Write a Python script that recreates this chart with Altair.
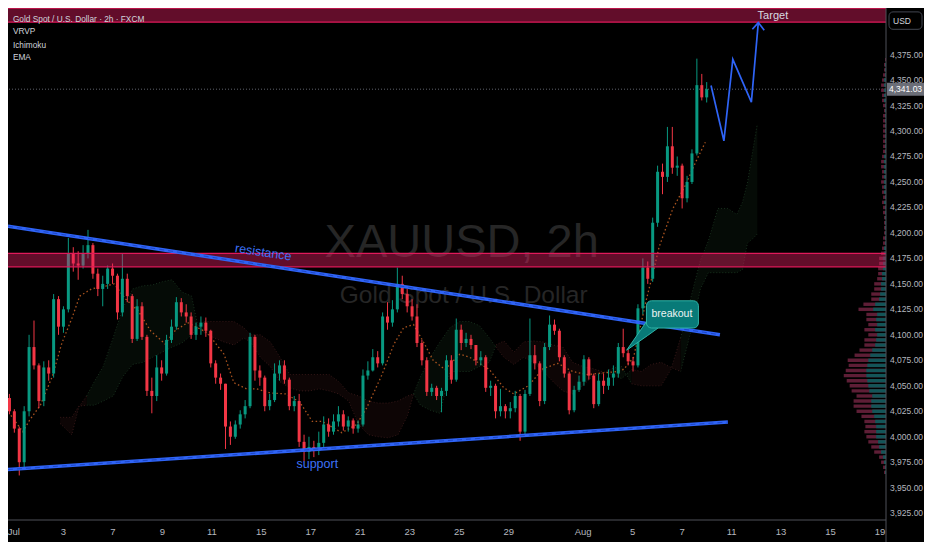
import altair as alt
import pandas as pd
import numpy as np

# ---------------- layout ----------------
W, H = 878, 512            # plot area
RW, RH = 894, 528          # reference plot area (px)
SX, SY = W / RW, H / RH
def px(v): return round(v * SX, 1)
def py(v): return round(v * SY, 1)

T_MIN, T_MAX = -0.238, 35.24        # trading days from Jul 1
P_MIN, P_MAX = 3918.3, 4420.7

GREEN, RED, BLUE = "#089981", "#f23645", "#2f64f6"
UI_FONT = "Liberation Sans, Arial, sans-serif"
TXT_FONT = "Liberation Sans, Arial, sans-serif"
AXIS_LINE = "#4e5159"
AXIS_TXT = "#b4b7bf"

# ---------------- data ----------------
label_t = [0, 2, 4, 6, 8, 10, 12, 14, 16, 18, 20, 23, 25, 27, 29, 31, 33, 35]
label_txt = ["Jul", "3", "7", "9", "11", "15", "17", "21", "23", "25", "29",
             "Aug", "5", "7", "11", "13", "15", "19"]
price_ticks = list(range(3925, 4376, 25))

candle_t0 = -0.18
candle_step = 5 / 25.2
first_open = 4038
highs = [4042, 4027, 4010, 4030, 4100, 4114, 4072, 4074, 4075, 4140,
         4138, 4128, 4195, 4186, 4182, 4188, 4203, 4190, 4165, 4158,
         4168, 4170, 4160, 4180, 4160, 4140, 4135, 4132, 4100, 4058,
         4080, 4075, 4100, 4115, 4137, 4136, 4130, 4122, 4112, 4118,
         4117, 4105, 4075, 4062, 4052, 4015, 4016, 4026, 4036, 4102,
         4100, 4070, 4060, 4042, 4072, 4075, 4075, 4058, 4040, 4042,
         4002, 4000, 3996, 4005, 4020, 4018, 4022, 4030, 4026, 4020,
         4018, 4016, 4066, 4074, 4086, 4084, 4122, 4132, 4134, 4166,
         4158, 4145, 4135, 4130, 4095, 4078, 4052, 4050, 4048, 4080,
         4080, 4116, 4110, 4102, 4100, 4090, 4084, 4080, 4055, 4052,
         4047, 4032, 4034, 4045, 4042, 4046, 4116, 4090, 4074, 4092,
         4119, 4115, 4106, 4080, 4064, 4050, 4060, 4080, 4078, 4062,
         4062, 4062, 4066, 4070, 4092, 4106, 4086, 4078, 4130, 4175,
         4172, 4215, 4266, 4268, 4304, 4304, 4275, 4268, 4256, 4282,
         4371, 4356, 4348]
lows = [4022, 4004, 3962, 3968, 4020, 4066, 4028, 4030, 4055, 4058,
        4100, 4102, 4122, 4162, 4154, 4165, 4175, 4155, 4138, 4128,
        4145, 4150, 4115, 4118, 4132, 4092, 4094, 4095, 4040, 4023,
        4035, 4055, 4060, 4092, 4105, 4118, 4112, 4096, 4095, 4100,
        4098, 4068, 4052, 4046, 3988, 3992, 3998, 4008, 4018, 4028,
        4055, 4050, 4025, 4026, 4034, 4055, 4052, 4026, 4025, 3990,
        3976, 3978, 3980, 3982, 3990, 4000, 4002, 4010, 4006, 4005,
        4003, 4004, 4010, 4056, 4064, 4068, 4070, 4105, 4108, 4122,
        4135, 4122, 4114, 4088, 4070, 4040, 4040, 4036, 4024, 4040,
        4052, 4054, 4085, 4088, 4086, 4070, 4070, 4044, 4040, 4018,
        4020, 4018, 4018, 4024, 3996, 4002, 4040, 4066, 4030, 4032,
        4085, 4100, 4074, 4058, 4022, 4024, 4044, 4050, 4056, 4028,
        4030, 4042, 4046, 4050, 4058, 4078, 4070, 4064, 4068, 4120,
        4150, 4152, 4206, 4238, 4250, 4258, 4256, 4224, 4230, 4248,
        4276, 4330, 4328]
closes = [4025, 4008, 3975, 4025, 4088, 4070, 4035, 4068, 4062, 4135,
          4108, 4125, 4180, 4170, 4168, 4180, 4188, 4160, 4145, 4150,
          4165, 4158, 4122, 4155, 4138, 4096, 4128, 4098, 4045, 4040,
          4068, 4062, 4095, 4108, 4132, 4122, 4118, 4100, 4108, 4112,
          4104, 4072, 4058, 4052, 4010, 4000, 4012, 4022, 4030, 4098,
          4065, 4058, 4030, 4036, 4062, 4070, 4056, 4030, 4035, 3995,
          3985, 3990, 3986, 3994, 4012, 4005, 4015, 4022, 4010, 4016,
          4008, 4012, 4060, 4065, 4078, 4072, 4118, 4112, 4125, 4150,
          4140, 4128, 4118, 4092, 4075, 4044, 4048, 4040, 4045, 4075,
          4056, 4105, 4092, 4096, 4090, 4075, 4078, 4048, 4050, 4025,
          4030, 4025, 4028, 4040, 4005, 4042, 4080, 4072, 4035, 4088,
          4110, 4104, 4078, 4062, 4026, 4046, 4054, 4076, 4060, 4032,
          4055, 4050, 4058, 4062, 4088, 4082, 4074, 4070, 4126, 4166,
          4155, 4210, 4260, 4255, 4285, 4264, 4266, 4234, 4250, 4278,
          4345, 4333, 4341.03]
last_price = 4341.03

# Ichimoku cloud (leading spans A / B)
cloud_t = [1.87, 2.34, 2.62, 2.94, 3.25, 3.61, 4.01, 4.40, 4.80, 5.20,
           5.60, 5.99, 6.39, 6.79, 7.18, 7.42, 7.70, 8.10, 8.49, 8.89,
           9.29, 9.56, 9.96, 10.36, 10.75, 11.15, 11.55, 11.94, 12.34, 12.74,
           13.13, 13.53, 13.93, 14.33, 14.72, 15.12, 15.52, 15.91, 16.15, 16.43,
           16.83, 17.22, 17.62, 18.02, 18.41, 18.81, 19.21, 19.48, 19.80, 20.20,
           20.60, 20.99, 21.39, 21.79, 22.18, 22.58, 22.98, 23.37, 23.77, 24.17,
           24.56, 24.96, 25.36, 25.75, 26.15, 26.55, 26.94, 27.34, 27.74, 28.06,
           28.45, 28.85, 29.21, 29.44, 29.64, 29.84, 30.04]
span_a = [4013, 4002, 4029, 4040, 4054, 4069, 4097, 4126, 4145, 4148,
          4149, 4152, 4154, 4142, 4138, 4110, 4102, 4097, 4093, 4090,
          4097, 4093, 4078, 4069, 4054, 4048, 4045, 4045, 4047, 4045,
          4042, 4035, 4012, 4002, 4000, 3999, 4002, 4021, 4042, 4059,
          4078, 4093, 4107, 4113, 4113, 4109, 4097, 4088, 4078, 4071,
          4078, 4073, 4064, 4054, 4045, 4042, 4050, 4059, 4062, 4067,
          4069, 4052, 4050, 4050, 4050, 4066, 4097, 4135, 4173, 4192,
          4224, 4224, 4218, 4230, 4249, 4278, 4307]
span_b = [4019, 4019, 4030, 4031, 4031, 4035, 4040, 4059, 4071, 4073,
          4078, 4083, 4088, 4092, 4100, 4107, 4113, 4113, 4113, 4113,
          4107, 4100, 4100, 4093, 4078, 4061, 4061, 4061, 4061, 4061,
          4054, 4043, 4040, 4035, 4033, 4033, 4035, 4040, 4042, 4031,
          4026, 4023, 4064, 4064, 4064, 4069, 4073, 4090, 4094, 4083,
          4093, 4094, 4093, 4090, 4088, 4073, 4069, 4067, 4064, 4061,
          4057, 4066, 4064, 4071, 4073, 4068, 4064, 4102, 4145, 4161,
          4161, 4161, 4161, 4164, 4190, 4194, 4199]

ema_t = [-0.12, 0.36, 0.63, 1.07, 1.55, 1.94, 2.34, 2.66, 3.13, 3.73,
         4.05, 4.52, 5.04, 5.52, 6.11, 6.51, 7.02, 7.82, 8.49, 8.89,
         9.40, 9.80, 10.36, 10.99, 11.55, 12.06, 12.46, 13.25, 13.85, 14.25,
         14.84, 15.36, 15.75, 16.15, 16.55, 16.94, 17.42, 18.02, 18.41, 19.21,
         19.80, 20.20, 20.79, 21.39, 21.98, 22.58, 23.17, 24.37, 24.64, 25.04,
         25.28, 25.56, 25.83, 26.07, 26.35, 26.63, 27.14, 27.54, 27.94]
ema_v = [4021, 4005, 4016, 4031, 4059, 4092, 4116, 4138, 4145, 4148,
         4150, 4135, 4123, 4104, 4091, 4104, 4112, 4102, 4081, 4053,
         4047, 4047, 4043, 4042, 4034, 4015, 4015, 4004, 4012, 4028,
         4059, 4091, 4107, 4110, 4093, 4075, 4066, 4081, 4078, 4066,
         4048, 4042, 4050, 4067, 4072, 4064, 4061, 4064, 4066, 4078,
         4104, 4135, 4161, 4186, 4205, 4224, 4247, 4269, 4289]

# visible-range volume profile, rows of 5 USD
vp_price = list(range(3965, 4371, 5))
vp_total = [2, 3, 5, 7, 12, 15, 18, 20, 22, 21,
            22, 25, 30, 33, 33, 30, 35, 37, 40, 43,
            41, 38, 39, 32, 27, 22, 22, 18, 22, 18,
            20, 20, 28, 23, 15, 15, 12, 12, 9, 8,
            8, 7, 7, 5, 4, 3, 3, 2, 2, 2,
            2, 3, 3, 4, 3, 4, 4, 5, 4, 4,
            5, 5, 4, 3, 3, 3, 3, 3, 3, 3,
            3, 2, 3, 4, 4, 5, 5, 4, 3, 2,
            2, 1]
vp_up = [1, 1, 2, 3, 5, 7, 8, 10, 10, 10,
         11, 12, 14, 15, 15, 14, 17, 18, 19, 20,
         20, 19, 18, 16, 14, 11, 10, 9, 11, 9,
         10, 9, 13, 11, 7, 6, 5, 5, 4, 4,
         3, 3, 3, 2, 2, 1, 1, 1, 1, 1,
         1, 1, 1, 2, 1, 2, 2, 2, 2, 2,
         2, 2, 2, 1, 1, 1, 1, 1, 1, 1,
         1, 1, 1, 2, 2, 2, 2, 2, 1, 1,
         1, 0]

trend_id = ["resistance", "resistance", "support", "support"]
trend_t = [-0.24, 28.53, -0.24, 28.85]
trend_p = [4206.6, 4100.1, 3967.8, 4014.4]

proj_t = [28.17, 28.69, 29.05, 29.80, 30.08]
proj_p = [4344.6, 4290.4, 4370.3, 4328.4, 4406.4]
arrow_t = [29.84, 30.08, 30.32]
arrow_p = [4399.8, 4406.4, 4398.8]

zone_lo = [4406.9, 4166.7]
zone_hi = [4420.5, 4180.0]

resist_lbl = ("resistance", 10.08, 4181.0)
support_lbl = ("support", 12.26, 3973.5)
target_lbl = ("Target", 30.67, 4413.3)
break_box_t = [25.56, 27.66]
break_box_p = [4133.4, 4106.7]
break_txt = ("breakout", 26.59, 4120.1)
break_ptr_t = [24.76, 25.60, 26.03]
break_ptr_hi = [4084.9, 4114.3, 4106.7]
break_ptr_lo = [4084.9, 4099.2, 4106.7]

# ---------------- frames ----------------
opens = [first_open] + closes[:-1]
candles = pd.DataFrame(dict(
    t=[candle_t0 + i * candle_step for i in range(len(closes))],
    open=opens, high=highs, low=lows, close=closes))
candles["dir"] = np.where(candles["close"] >= candles["open"], "up", "down")

rows, seg, prev = [], 0, None
for tt, a, b in zip(cloud_t, span_a, span_b):
    kind = "bull" if a >= b else "bear"
    if prev is not None and kind != prev:
        rows.append(dict(t=tt, a=a, b=b, seg=seg, kind=prev))
        seg += 1
    rows.append(dict(t=tt, a=a, b=b, seg=seg, kind=kind))
    prev = kind
cloud = pd.DataFrame(rows)

ema = pd.DataFrame(dict(t=ema_t, v=ema_v))
vp = pd.DataFrame(dict(p=vp_price, total=vp_total, up=vp_up))
trend = pd.DataFrame(dict(id=trend_id, t=trend_t, p=trend_p))
proj = pd.DataFrame(dict(t=proj_t, p=proj_p, o=list(range(len(proj_t)))))
arrow = pd.DataFrame(dict(t=arrow_t, p=arrow_p, o=list(range(len(arrow_t)))))
zones = pd.DataFrame(dict(lo=zone_lo, hi=zone_hi))
lastp = pd.DataFrame(dict(p=[last_price], lbl=[f"{last_price:,.2f}"]))
xlab = pd.DataFrame(dict(t=label_t, txt=label_txt))
ylab = pd.DataFrame(dict(p=price_ticks))
one = pd.DataFrame(dict(a=[0]))

xs = alt.Scale(domain=[T_MIN, T_MAX], nice=False, zero=False, padding=0)
ys = alt.Scale(domain=[P_MIN, P_MAX], nice=False, zero=False, padding=0)
def X(f): return alt.X(f, type="quantitative", scale=xs, axis=None)
def Y(f): return alt.Y(f, type="quantitative", scale=ys, axis=None)

# ---------------- layers ----------------
wm1 = alt.Chart(one).mark_text(text="XAUUSD, 2h", font=TXT_FONT, fontSize=47, color="#262626",
                               align="center", baseline="middle").encode(
    x=alt.value(px(462)), y=alt.value(py(242)))
wm2 = alt.Chart(one).mark_text(text="Gold Spot / U.S. Dollar", font=TXT_FONT, fontSize=24.5,
                               color="#262626", align="center", baseline="middle").encode(
    x=alt.value(px(464)), y=alt.value(py(297)))

cloud_layers = []
for kind, fill, edge in [("bull", "#050b06", "#18301d"), ("bear", "#0d0505", "#351818")]:
    base = alt.Chart(cloud).transform_filter(alt.datum.kind == kind)
    cloud_layers.append(base.mark_area(color=fill, opacity=1).encode(
        x=X("t"), y=Y("a"), y2="b", detail="seg:N"))
    cloud_layers.append(base.mark_line(color=edge, strokeWidth=1, strokeDash=[1, 2]).encode(
        x=X("t"), y=Y("a"), detail="seg:N"))
    cloud_layers.append(base.mark_line(color=edge, strokeWidth=1, strokeDash=[1, 2]).encode(
        x=X("t"), y=Y("b"), detail="seg:N"))

ema_line = alt.Chart(ema).mark_line(color="#a9531f", strokeWidth=1.3, strokeDash=[1.5, 2.5]).encode(
    x=X("t"), y=Y("v"))

price_line = alt.Chart(lastp).mark_rule(color="#5d606b", strokeWidth=1, strokeDash=[1, 2]).encode(y=Y("p"))

dir_color = alt.Color("dir:N", scale=alt.Scale(domain=["up", "down"], range=[GREEN, RED]), legend=None)
wicks = alt.Chart(candles).mark_rule(strokeWidth=1).encode(
    x=X("t"), y=Y("low"), y2="high", color=dir_color)
bodies = alt.Chart(candles).mark_bar(size=3).encode(
    x=X("t"), y=Y("open"), y2="close", color=dir_color)

# volume profile drawn from the right edge of the price pane
vol_px = (T_MAX - T_MIN) / RW      # one volume unit = one reference pixel
vp_base = alt.Chart(vp).transform_calculate(
    xe_total=f"{T_MAX} - datum.total * {vol_px}",
    xe_up=f"{T_MAX} - datum.up * {vol_px}")
vp_red = vp_base.mark_rule(strokeWidth=3.4, color="#5e1e36").encode(
    x=X("xe_total"), x2=alt.datum(T_MAX), y=Y("p"))
vp_grn = vp_base.mark_rule(strokeWidth=3.4, color="#145558").encode(
    x=X("xe_up"), x2=alt.datum(T_MAX), y=Y("p"))

zone_fill = alt.Chart(zones).mark_rect(color="#e91e63", opacity=0.42).encode(
    x=alt.value(0), x2=alt.value(W), y=Y("lo"), y2="hi")
zone_b1 = alt.Chart(zones).mark_rule(color="#e0195a", strokeWidth=1.3).encode(
    x=alt.value(0), x2=alt.value(W), y=Y("lo"))
zone_b2 = alt.Chart(zones).mark_rule(color="#e0195a", strokeWidth=1.3).encode(
    x=alt.value(0), x2=alt.value(W), y=Y("hi"))

trend_main = alt.Chart(trend).mark_line(color=BLUE, strokeWidth=3.6).encode(
    x=X("t"), y=Y("p"), detail="id:N")
trend_dash = alt.Chart(trend).mark_line(color="#1d47c8", strokeWidth=1, strokeDash=[5, 4]).encode(
    x=X("t"), y=Y("p"), detail="id:N")

proj_line = alt.Chart(proj).mark_line(color=BLUE, strokeWidth=1.7).encode(
    x=X("t"), y=Y("p"), order="o:Q")
arrow_line = alt.Chart(arrow).mark_line(color=BLUE, strokeWidth=1.7).encode(
    x=X("t"), y=Y("p"), order="o:Q")

def label_df(lbl):
    return pd.DataFrame(dict(txt=[lbl[0]], t=[lbl[1]], p=[lbl[2]]))

resist_t = alt.Chart(label_df(resist_lbl)).mark_text(
    font=TXT_FONT, fontSize=12.5, color="#3d72f7", angle=8.6, align="center", baseline="middle").encode(
    x=X("t"), y=Y("p"), text="txt:N")
support_t = alt.Chart(label_df(support_lbl)).mark_text(
    font=TXT_FONT, fontSize=12.5, color="#3d72f7", align="center", baseline="middle").encode(
    x=X("t"), y=Y("p"), text="txt:N")
target_t = alt.Chart(label_df(target_lbl)).mark_text(
    font=UI_FONT, fontSize=11, color="#d8dae0", align="center", baseline="middle").encode(
    x=X("t"), y=Y("p"), text="txt:N")

ptr = alt.Chart(pd.DataFrame(dict(t=break_ptr_t, hi=break_ptr_hi, lo=break_ptr_lo))).mark_area(
    fill="#087a78", stroke="#2fb3a6", strokeWidth=1, opacity=1).encode(x=X("t"), y=Y("hi"), y2="lo")
box = alt.Chart(pd.DataFrame(dict(t0=[break_box_t[0]], t1=[break_box_t[1]],
                                  p0=[break_box_p[0]], p1=[break_box_p[1]]))).mark_rect(
    fill="#087a78", stroke="#2fb3a6", strokeWidth=1, cornerRadius=5).encode(
    x=X("t0"), x2="t1", y=Y("p0"), y2="p1")
box_t = alt.Chart(label_df(break_txt)).mark_text(
    font=UI_FONT, fontSize=10.5, color="#eef4f4", align="center", baseline="middle").encode(
    x=X("t"), y=Y("p"), text="txt:N")

legend_items = [("Gold Spot / U.S. Dollar · 2h · FXCM", 12.5), ("VRVP", 25), ("Ichimoku", 39), ("EMA", 52)]
legend_layers = [
    alt.Chart(one).mark_text(text=s, font=UI_FONT, fontSize=8.3, color="#d1d4dc",
                             align="left", baseline="middle").encode(
        x=alt.value(px(5)), y=alt.value(py(yy)))
    for s, yy in legend_items
]

# axes (drawn as marks through the chart's own scales)
x_line = alt.Chart(one).mark_rule(color=AXIS_LINE, strokeWidth=1).encode(
    x=alt.value(0), x2=alt.value(W), y=alt.value(H))
y_line = alt.Chart(one).mark_rule(color=AXIS_LINE, strokeWidth=1).encode(
    x=alt.value(W), y=alt.value(0), y2=alt.value(H + 22))
x_labels = alt.Chart(xlab).mark_text(font=UI_FONT, fontSize=9.5, color=AXIS_TXT,
                                     align="center", baseline="middle").encode(
    x=X("t"), y=alt.value(H + 12), text="txt:N")
y_labels = alt.Chart(ylab).mark_text(font=UI_FONT, fontSize=8.5, color=AXIS_TXT,
                                     align="left", baseline="middle").encode(
    x=alt.value(W + 4), y=Y("p"), text=alt.Text("p:Q", format=",.2f"))

usd_box = alt.Chart(one).mark_rect(fill="#000000", stroke="#434651", strokeWidth=1, cornerRadius=4).encode(
    x=alt.value(W + 3), x2=alt.value(W + 36), y=alt.value(py(4)), y2=alt.value(py(22)))
usd_txt = alt.Chart(one).mark_text(text="USD", font=UI_FONT, fontSize=8.5, color="#d1d4dc",
                                   align="left", baseline="middle").encode(
    x=alt.value(W + 7), y=alt.value(py(13)))
price_box = alt.Chart(lastp).mark_rect(fill="#6b6e78", yOffset=-6.5, y2Offset=6.5).encode(
    x=alt.value(W + 1), x2=alt.value(W + 38), y=Y("p"), y2="p")
price_txt = alt.Chart(lastp).mark_text(font=UI_FONT, fontSize=8.5, color="#ffffff",
                                       align="left", baseline="middle").encode(
    x=alt.value(W + 3), y=Y("p"), text="lbl:N")

chart = alt.layer(
    wm1, wm2, *cloud_layers, ema_line, price_line, wicks, bodies,
    vp_red, vp_grn,
    zone_fill, zone_b1, zone_b2, trend_main, trend_dash, proj_line, arrow_line,
    resist_t, support_t, target_t, ptr, box, box_t, *legend_layers,
    x_line, y_line, x_labels, y_labels,
    usd_box, usd_txt, price_box, price_txt
).properties(
    width=W, height=H,
    autosize=alt.AutoSizeParams(type="none"),
    padding={"left": 0, "top": 0, "right": 38, "bottom": 22},
).configure(background="#000000").configure_view(strokeWidth=0)

chart.save("out.html", embed_options={"renderer": "svg", "actions": False})
